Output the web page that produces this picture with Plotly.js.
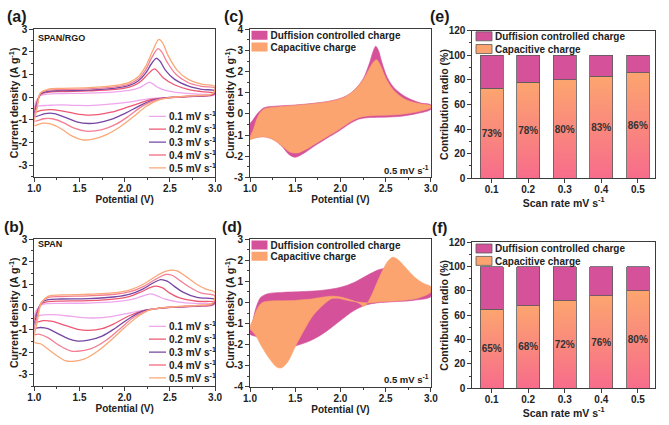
<!DOCTYPE html>
<html><head><meta charset="utf-8">
<script src="https://cdn.plot.ly/plotly-3.0.1.min.js"></script>
<style>html,body{margin:0;padding:0;background:#fff}#g{width:669px;height:425px}</style>
</head><body><div id="g"></div>
<script>
// ---------------- DATA ----------------
const POT_TICKS = [1.0, 1.5, 2.0, 2.5, 3.0];
const POT_TICKTEXT = ['1.0', '1.5', '2.0', '2.5', '3.0'];
const CUR_TICKS_AB = [-3, -2, -1, 0, 1, 2, 3];
const CUR_TICKTEXT_AB = ['-3', '-2', '-1', '0', '1', '2', '3'];
const CUR_TICKS_C = [-3, -2, -1, 0, 1, 2, 3, 4];
const CUR_TICKTEXT_C = ['-3', '-2', '-1', '0', '1', '2', '3', '4'];
const CUR_TICKS_D = [-4, -3, -2, -1, 0, 1, 2, 3];
const CUR_TICKTEXT_D = ['-4', '-3', '-2', '-1', '0', '1', '2', '3'];
const PCT_TICKS = [0, 20, 40, 60, 80, 100, 120];
const PCT_TICKTEXT = ['0', '20', '40', '60', '80', '100', '120'];

const SCAN_NAMES = ['0.1 mV s<sup>-1</sup>', '0.2 mV s<sup>-1</sup>', '0.3 mV s<sup>-1</sup>', '0.4 mV s<sup>-1</sup>', '0.5 mV s<sup>-1</sup>'];
const SCAN_RATES = ['0.1', '0.2', '0.3', '0.4', '0.5'];
const CHARGE_NAMES = ['Duffision controlled charge', 'Capacitive charge'];

// (a) SPAN/RGO CV loops [potential V, current A/g]
const A_01 = [[1.0,-0.42],[1.03,-0.1],[1.07,0.08],[1.15,0.14],[1.3,0.16],[1.6,0.18],[1.9,0.24],[2.05,0.3],[2.15,0.4],[2.22,0.55],[2.27,0.66],[2.31,0.6],[2.36,0.45],[2.45,0.3],[2.6,0.2],[2.8,0.14],[3.0,0.11],
  [2.97,0.07],[2.8,0.04],[2.6,0.01],[2.4,-0.03],[2.25,-0.08],[2.1,-0.18],[1.9,-0.28],[1.7,-0.35],[1.6,-0.37],[1.45,-0.36],[1.3,-0.34],[1.15,-0.36],[1.05,-0.38],[1.0,-0.42]];
const A_02 = [[1.0,-0.65],[1.03,-0.2],[1.07,0.12],[1.15,0.22],[1.3,0.25],[1.6,0.28],[1.9,0.35],[2.05,0.45],[2.15,0.62],[2.23,0.9],[2.29,1.15],[2.33,1.25],[2.37,1.12],[2.43,0.85],[2.55,0.55],[2.7,0.35],[2.85,0.25],[3.0,0.18],
  [2.97,0.09],[2.8,0.05],[2.6,0.01],[2.45,-0.03],[2.3,-0.1],[2.15,-0.28],[2.0,-0.48],[1.85,-0.66],[1.7,-0.77],[1.6,-0.79],[1.45,-0.72],[1.3,-0.6],[1.18,-0.55],[1.08,-0.58],[1.0,-0.65]];
const A_03 = [[1.0,-0.85],[1.03,-0.3],[1.07,0.15],[1.15,0.26],[1.3,0.29],[1.6,0.31],[1.9,0.4],[2.05,0.52],[2.15,0.72],[2.23,1.05],[2.3,1.5],[2.35,1.72],[2.39,1.6],[2.45,1.2],[2.55,0.8],[2.7,0.5],[2.85,0.35],[3.0,0.28],
  [2.97,0.11],[2.8,0.06],[2.6,0.01],[2.45,-0.03],[2.32,-0.12],[2.18,-0.35],[2.0,-0.72],[1.85,-0.98],[1.7,-1.13],[1.6,-1.16],[1.48,-1.1],[1.35,-0.9],[1.22,-0.72],[1.12,-0.72],[1.0,-0.85]];
const A_04 = [[1.0,-1.05],[1.03,-0.4],[1.07,0.18],[1.15,0.31],[1.3,0.34],[1.6,0.37],[1.9,0.46],[2.05,0.58],[2.15,0.8],[2.23,1.2],[2.3,1.75],[2.37,2.15],[2.41,2.0],[2.47,1.55],[2.57,1.0],[2.7,0.65],[2.85,0.48],[3.0,0.4],
  [2.97,0.13],[2.8,0.07],[2.6,0.01],[2.48,-0.03],[2.35,-0.12],[2.2,-0.38],[2.05,-0.82],[1.9,-1.2],[1.75,-1.43],[1.57,-1.5],[1.45,-1.38],[1.32,-1.12],[1.2,-0.95],[1.1,-0.95],[1.0,-1.05]];
const A_05 = [[1.0,-1.25],[1.03,-0.5],[1.07,0.2],[1.15,0.35],[1.3,0.39],[1.6,0.42],[1.9,0.52],[2.05,0.66],[2.15,0.9],[2.23,1.35],[2.31,2.05],[2.38,2.55],[2.42,2.4],[2.48,1.85],[2.58,1.2],[2.7,0.8],[2.85,0.58],[3.0,0.47],
  [2.97,0.15],[2.8,0.08],[2.6,0.02],[2.5,-0.02],[2.38,-0.12],[2.24,-0.4],[2.1,-0.85],[1.95,-1.3],[1.8,-1.65],[1.65,-1.85],[1.53,-1.88],[1.42,-1.72],[1.3,-1.4],[1.18,-1.18],[1.08,-1.15],[1.0,-1.25]];

// (b) SPAN CV loops
const B_01 = [[1.0,-0.38],[1.03,-0.1],[1.08,0.1],[1.15,0.16],[1.3,0.17],[1.6,0.18],[1.9,0.24],[2.05,0.32],[2.18,0.46],[2.29,0.59],[2.36,0.5],[2.45,0.35],[2.6,0.22],[2.8,0.16],[3.0,0.14],
  [2.97,0.08],[2.8,0.04],[2.6,0.0],[2.4,-0.04],[2.2,-0.14],[2.0,-0.3],[1.85,-0.42],[1.65,-0.48],[1.5,-0.45],[1.35,-0.38],[1.2,-0.33],[1.1,-0.34],[1.0,-0.38]];
const B_02 = [[1.0,-0.65],[1.03,-0.2],[1.08,0.15],[1.15,0.24],[1.3,0.27],[1.6,0.29],[1.9,0.37],[2.05,0.47],[2.18,0.67],[2.28,0.86],[2.35,0.93],[2.42,0.85],[2.5,0.62],[2.6,0.42],[2.8,0.26],[3.0,0.22],
  [2.97,0.1],[2.8,0.05],[2.6,0.01],[2.4,-0.04],[2.2,-0.16],[2.05,-0.38],[1.9,-0.7],[1.75,-0.95],[1.6,-1.03],[1.48,-0.98],[1.35,-0.82],[1.2,-0.63],[1.1,-0.6],[1.0,-0.65]];
const B_03 = [[1.0,-0.92],[1.03,-0.3],[1.08,0.2],[1.15,0.33],[1.3,0.36],[1.6,0.38],[1.9,0.46],[2.05,0.56],[2.2,0.8],[2.32,1.08],[2.4,1.22],[2.47,1.15],[2.55,0.92],[2.65,0.65],[2.8,0.43],[3.0,0.33],
  [2.97,0.12],[2.8,0.06],[2.6,0.01],[2.4,-0.04],[2.2,-0.18],[2.05,-0.5],[1.9,-0.92],[1.75,-1.28],[1.6,-1.46],[1.48,-1.5],[1.38,-1.4],[1.25,-1.15],[1.15,-0.95],[1.07,-0.9],[1.0,-0.92]];
const B_04 = [[1.0,-1.2],[1.03,-0.45],[1.08,0.22],[1.15,0.42],[1.3,0.47],[1.6,0.5],[1.9,0.57],[2.05,0.67],[2.2,0.9],[2.35,1.25],[2.46,1.45],[2.53,1.4],[2.62,1.15],[2.72,0.88],[2.85,0.62],[3.0,0.49],
  [2.97,0.14],[2.8,0.07],[2.6,0.02],[2.4,-0.04],[2.25,-0.15],[2.1,-0.45],[1.95,-0.95],[1.8,-1.45],[1.62,-1.85],[1.48,-1.95],[1.4,-1.93],[1.28,-1.7],[1.15,-1.35],[1.06,-1.2],[1.0,-1.2]];
const B_05 = [[1.0,-1.55],[1.03,-0.7],[1.08,0.2],[1.15,0.48],[1.3,0.54],[1.6,0.57],[1.9,0.64],[2.05,0.75],[2.2,1.0],[2.35,1.38],[2.45,1.58],[2.51,1.64],[2.58,1.6],[2.68,1.35],[2.8,1.0],[2.9,0.8],[3.0,0.64],
  [2.97,0.18],[2.8,0.08],[2.6,0.03],[2.4,-0.03],[2.28,-0.12],[2.15,-0.4],[2.0,-0.9],[1.85,-1.45],[1.7,-1.95],[1.55,-2.3],[1.42,-2.4],[1.35,-2.38],[1.25,-2.15],[1.15,-1.85],[1.07,-1.62],[1.0,-1.55]];

// (c) SPAN/RGO 0.5 mV/s : total (diffusion shows where it exceeds) and capacitive
const C_TOT = [[1.0,-0.45],[1.03,-0.3],[1.08,0.0],[1.15,0.28],[1.3,0.37],[1.5,0.42],[1.7,0.5],[1.9,0.62],[2.05,0.82],[2.15,1.12],[2.25,1.65],[2.32,2.4],[2.36,2.95],[2.39,3.2],[2.42,3.0],[2.46,2.4],[2.52,1.7],[2.6,1.2],[2.73,0.78],[2.88,0.52],[3.0,0.42],
  [3.0,0.22],[2.85,0.02],[2.65,-0.12],[2.45,-0.16],[2.3,-0.18],[2.2,-0.25],[2.1,-0.47],[1.97,-0.85],[1.85,-1.15],[1.72,-1.5],[1.6,-1.85],[1.5,-2.05],[1.43,-1.92],[1.35,-1.52],[1.25,-1.2],[1.15,-1.08],[1.07,-1.12],[1.0,-1.2]];
const C_CAP = [[1.0,-1.2],[1.04,-0.7],[1.09,-0.1],[1.15,0.22],[1.3,0.33],[1.5,0.4],[1.7,0.48],[1.9,0.6],[2.05,0.8],[2.15,1.1],[2.25,1.6],[2.32,2.15],[2.37,2.48],[2.4,2.56],[2.44,2.3],[2.5,1.7],[2.58,1.15],[2.7,0.72],[2.85,0.5],[3.0,0.38],
  [3.0,0.3],[2.85,0.1],[2.65,-0.03],[2.45,-0.07],[2.3,-0.1],[2.2,-0.18],[2.1,-0.4],[1.97,-0.78],[1.85,-1.08],[1.72,-1.42],[1.6,-1.72],[1.52,-1.85],[1.44,-1.8],[1.35,-1.5],[1.25,-1.2],[1.15,-1.08],[1.07,-1.12],[1.0,-1.2]];

// (d) SPAN 0.5 mV/s
const D_TOT = [[1.0,-1.5],[1.03,-0.9],[1.07,-0.2],[1.12,0.25],[1.2,0.42],[1.35,0.48],[1.6,0.52],[1.8,0.58],[2.0,0.72],[2.15,0.95],[2.3,1.3],[2.42,1.55],[2.52,1.64],[2.6,1.6],[2.7,1.35],[2.8,1.05],[2.9,0.82],[3.0,0.65],
  [3.0,0.28],[2.8,0.1],[2.6,0.04],[2.4,-0.02],[2.28,-0.12],[2.15,-0.38],[2.0,-0.85],[1.85,-1.35],[1.7,-1.75],[1.55,-2.0],[1.45,-2.12],[1.35,-2.15],[1.25,-2.0],[1.15,-1.8],[1.07,-1.62],[1.0,-1.5]];
const D_CAP = [[1.0,-1.2],[1.04,-0.75],[1.08,-0.3],[1.13,-0.02],[1.2,0.06],[1.35,0.08],[1.5,0.1],[1.65,0.15],[1.8,0.25],[1.9,0.3],[2.0,0.26],[2.1,0.14],[2.2,-0.02],[2.26,-0.18],[2.3,0.0],[2.36,0.5],[2.42,1.1],[2.48,1.65],[2.53,2.0],[2.58,2.15],[2.64,2.02],[2.72,1.65],[2.82,1.2],[2.92,0.9],[3.0,0.75],
  [3.0,0.5],[2.85,0.2],[2.65,0.08],[2.45,0.03],[2.3,-0.02],[2.2,0.02],[2.08,0.1],[1.97,0.2],[1.9,0.18],[1.8,-0.15],[1.7,-0.6],[1.6,-1.3],[1.5,-2.1],[1.42,-2.8],[1.35,-3.1],[1.3,-3.08],[1.22,-2.7],[1.13,-2.1],[1.06,-1.55],[1.0,-1.2]];

// (e),(f) contribution ratios (%)
const E_CAP = [73, 78, 80, 83, 86];
const E_DIF = [27, 22, 20, 17, 14];
const F_CAP = [65, 68, 72, 76, 80];
const F_DIF = [35, 32, 28, 24, 20];

// ---------------- STYLE ----------------
const FONT = "'Liberation Sans', Arial, sans-serif";
const INK = '#222222';
const AXC = '#3c3c3c';
const CV_COLORS = ['#eea6ec', '#ee5873', '#7647a3', '#f47f95', '#f9a878'];
const MAGENTA = '#d5529a';
const ORANGE = '#fba46f';

function pts(arr) { return { x: arr.map(p => p[0]), y: arr.map(p => p[1]) }; }

const data = [];
[A_01, A_02, A_03, A_04, A_05].forEach((c, i) => {
  const p = pts(c);
  data.push({ type: 'scatter', mode: 'lines', x: p.x, y: p.y, xaxis: 'x', yaxis: 'y', name: SCAN_NAMES[i],
    legend: 'legend', line: { color: CV_COLORS[i], width: 1.3, shape: 'spline', smoothing: 1 } });
});
[B_01, B_02, B_03, B_04, B_05].forEach((c, i) => {
  const p = pts(c);
  data.push({ type: 'scatter', mode: 'lines', x: p.x, y: p.y, xaxis: 'x4', yaxis: 'y4', name: SCAN_NAMES[i],
    legend: 'legend2', line: { color: CV_COLORS[i], width: 1.3, shape: 'spline', smoothing: 1 } });
});
function fillTrace(arr, color, name, xa, ya, lg) {
  const p = pts(arr);
  return { type: 'scatter', mode: 'lines', x: p.x, y: p.y, xaxis: xa, yaxis: ya, name: name, legend: lg,
    fill: 'toself', fillcolor: color, line: { color: color, width: 0.6, shape: 'spline', smoothing: 0.9 } };
}
data.push(fillTrace(C_TOT, MAGENTA, CHARGE_NAMES[0], 'x2', 'y2', 'legend3'));
data.push(fillTrace(C_CAP, ORANGE, CHARGE_NAMES[1], 'x2', 'y2', 'legend3'));
data.push(fillTrace(D_TOT, MAGENTA, CHARGE_NAMES[0], 'x5', 'y5', 'legend4'));
data.push(fillTrace(D_CAP, ORANGE, CHARGE_NAMES[1], 'x5', 'y5', 'legend4'));

function barPair(cap, dif, xa, ya, lg) {
  return [
    { type: 'bar', x: SCAN_RATES, y: cap, xaxis: xa, yaxis: ya, name: CHARGE_NAMES[1], legend: lg, width: 0.62,
      marker: { color: ORANGE, line: { color: '#5a5a5a', width: 0.8 } },
      texttemplate: '%{y}%', textposition: 'inside', insidetextanchor: 'middle', textangle: 0, constraintext: 'none',
      textfont: { family: FONT, size: 10, color: '#333333', weight: 'bold' } },
    { type: 'bar', x: SCAN_RATES, y: dif, xaxis: xa, yaxis: ya, name: CHARGE_NAMES[0], legend: lg, width: 0.62,
      marker: { color: MAGENTA, line: { color: '#5a5a5a', width: 0.8 } }, textposition: 'none' }
  ];
}
barPair(E_CAP, E_DIF, 'x3', 'y3', 'legend5').forEach(t => data.push(t));
barPair(F_CAP, F_DIF, 'x6', 'y6', 'legend6').forEach(t => data.push(t));

function axis(o) {
  const a = {
    showline: true, mirror: true, linecolor: AXC, linewidth: 1,
    ticks: 'outside', ticklen: 4, tickwidth: 1, tickcolor: AXC,
    showgrid: false, zeroline: false, automargin: false, fixedrange: true,
    tickfont: { family: FONT, size: 10, color: INK, weight: 'bold' },
    title: { text: o.title, font: { family: FONT, size: o.tsize || 10, color: INK, weight: 'bold' }, standoff: o.standoff }
  };
  ['domain', 'range', 'anchor', 'type', 'tickvals', 'ticktext', 'tickmode', 'ticklabelstandoff'].forEach(k => { if (o[k] !== undefined) a[k] = o[k]; });
  if (o.minor) a.minor = { tickmode: 'linear', tick0: o.minor[0], dtick: o.minor[1], ticks: 'outside', ticklen: 2, tickwidth: 1, tickcolor: AXC, showgrid: false };
  return a;
}
const XD1 = [0.0513, 0.3214], XD2 = [0.3737, 0.6442], XD3 = [0.7060, 0.9791];
const POT_TITLE = 'Potential (V)', CUR_TITLE = 'Current density (A g<sup>-1</sup>)';
const layout = {
  width: 669, height: 425, autosize: false,
  margin: { l: 0, r: 0, t: 0, b: 0, pad: 0 },
  paper_bgcolor: '#ffffff', plot_bgcolor: 'rgba(0,0,0,0)',
  font: { family: FONT, color: INK },
  barmode: 'stack', hovermode: false, showlegend: true,
  xaxis:  axis({ domain: XD1, range: [1, 3], anchor: 'y',  tickmode: 'array', tickvals: POT_TICKS, ticktext: POT_TICKTEXT, minor: [1, 0.25], title: POT_TITLE, standoff: 0, ticklabelstandoff: -2 }),
  yaxis:  axis({ domain: [0.5847, 0.9311], range: [-3.5, 3], anchor: 'x', tickmode: 'array', tickvals: CUR_TICKS_AB, ticktext: CUR_TICKTEXT_AB, minor: [0, 0.5], title: CUR_TITLE, tsize: 10.5, standoff: 0 }),
  xaxis2: axis({ domain: XD2, range: [1, 3], anchor: 'y2', tickmode: 'array', tickvals: POT_TICKS, ticktext: POT_TICKTEXT, minor: [1, 0.25], title: POT_TITLE, standoff: 0, ticklabelstandoff: -2 }),
  yaxis2: axis({ domain: [0.5828, 0.9311], range: [-3, 4], anchor: 'x2', tickmode: 'array', tickvals: CUR_TICKS_C, ticktext: CUR_TICKTEXT_C, minor: [0, 0.5], title: CUR_TITLE, tsize: 10.5, standoff: 0 }),
  xaxis3: axis({ domain: XD3, range: [-0.53, 4.47], anchor: 'y3', type: 'category', title: 'Scan rate mV s<sup>-1</sup>', tsize: 10.5, standoff: 0, ticklabelstandoff: -2 }),
  yaxis3: axis({ domain: [0.5805, 0.9278], range: [0, 120], anchor: 'x3', tickmode: 'array', tickvals: PCT_TICKS, ticktext: PCT_TICKTEXT, minor: [0, 10], title: 'Contribution radio (%)', tsize: 10.5, standoff: 0 }),
  xaxis4: axis({ domain: XD1, range: [1, 3], anchor: 'y4', tickmode: 'array', tickvals: POT_TICKS, ticktext: POT_TICKTEXT, minor: [1, 0.25], title: POT_TITLE, standoff: 0, ticklabelstandoff: -2 }),
  yaxis4: axis({ domain: [0.0911, 0.4369], range: [-3.5, 3], anchor: 'x4', tickmode: 'array', tickvals: CUR_TICKS_AB, ticktext: CUR_TICKTEXT_AB, minor: [0, 0.5], title: CUR_TITLE, tsize: 10.5, standoff: 0 }),
  xaxis5: axis({ domain: XD2, range: [1, 3], anchor: 'y5', tickmode: 'array', tickvals: POT_TICKS, ticktext: POT_TICKTEXT, minor: [1, 0.25], title: POT_TITLE, standoff: 0, ticklabelstandoff: -2 }),
  yaxis5: axis({ domain: [0.0901, 0.4369], range: [-4, 3], anchor: 'x5', tickmode: 'array', tickvals: CUR_TICKS_D, ticktext: CUR_TICKTEXT_D, minor: [0, 0.5], title: CUR_TITLE, tsize: 10.5, standoff: 0 }),
  xaxis6: axis({ domain: XD3, range: [-0.53, 4.47], anchor: 'y6', type: 'category', title: 'Scan rate mV s<sup>-1</sup>', tsize: 10.5, standoff: 0, ticklabelstandoff: -2 }),
  yaxis6: axis({ domain: [0.0864, 0.4299], range: [0, 120], anchor: 'x6', tickmode: 'array', tickvals: PCT_TICKS, ticktext: PCT_TICKTEXT, minor: [0, 10], title: 'Contribution radio (%)', tsize: 10.5, standoff: 0 }),
  annotations: []
};
// legend: text starts 40px right of legend.x; first row centre 14.5px below legend top
function legendCfg(textLeft, firstRowY, order) {
  return { x: (textLeft - 40) / 669, y: 1 - (firstRowY - 14.5) / 425, xanchor: 'left', yanchor: 'top', bgcolor: 'rgba(0,0,0,0)', borderwidth: 0,
    font: { family: FONT, size: 10, color: INK, weight: 'bold' }, traceorder: order, tracegroupgap: 0, itemwidth: 30 };
}
layout.legend  = legendCfg(169, 116.3, 'normal');
layout.legend2 = legendCfg(169, 326.3, 'normal');
layout.legend3 = legendCfg(270.5, 35.3, 'normal');
layout.legend4 = legendCfg(270.5, 245, 'normal');
layout.legend5 = legendCfg(495, 36.3, 'reversed');
layout.legend6 = legendCfg(495, 248.5, 'reversed');

function note(text, x, y, size, xanchor) {
  layout.annotations.push({ text: text, xref: 'paper', yref: 'paper', x: x / 669, y: 1 - y / 425, xanchor: xanchor || 'center', yanchor: 'middle',
    showarrow: false, font: { family: FONT, size: size, color: '#1a1a1a', weight: 'bold' } });
}
note('(a)', 16.5, 16.7, 16); note('(c)', 234, 16.7, 16); note('(e)', 440, 16.7, 16);
note('(b)', 14, 227, 15.5); note('(d)', 232, 227, 15.5); note('(f)', 440, 227.5, 15.5);
note('SPAN/RGO', 35.5, 37.7, 9, 'left'); note('SPAN', 35.5, 244.3, 9, 'left');
note('0.5 mV s<sup>-1</sup>', 431, 169.5, 9.5, 'right'); note('0.5 mV s<sup>-1</sup>', 431, 379, 9.5, 'right');

function parseT(s) { const m = /translate\(\s*([-\d.e]+)[ ,]+([-\d.e]+)\s*\)/.exec(s || ''); return m ? [+m[1], +m[2]] : [0, 0]; }
const LEG_STYLE = {
  legend:  { gap: 12.9, kind: 'line' }, legend2: { gap: 12.9, kind: 'line' },
  legend3: { gap: 11.7, kind: 'fill' }, legend4: { gap: 11.3, kind: 'fill' },
  legend5: { gap: 12.7, kind: 'bar' },  legend6: { gap: 12.4, kind: 'bar' }
};
function tweakLegends(gd) {
  gd.querySelectorAll('.infolayer > g').forEach(lg => {
    const t = LEG_STYLE[lg.getAttribute('class')];
    if (!t) return;
    const items = Array.from(lg.querySelectorAll('g.traces')).map(it => { const p = parseT(it.getAttribute('transform')); return { it: it, x: p[0], y: p[1] }; });
    if (!items.length) return;
    items.sort((a, b) => a.y - b.y);
    const y0 = items[0].y;
    items.forEach((p, i) => {
      p.it.setAttribute('transform', 'translate(' + p.x + ',' + (y0 + i * t.gap) + ')');
      if (t.kind === 'line') {
        p.it.querySelectorAll('.legendlines path').forEach(pa => pa.setAttribute('d', 'M20,0h17'));
      } else if (t.kind === 'fill') {
        p.it.querySelectorAll('.legendfill path').forEach(pa => pa.setAttribute('d', 'M21,-4.5h16v9h-16z'));
        p.it.querySelectorAll('.legendlines path').forEach(pa => pa.style.display = 'none');
      } else {
        p.it.querySelectorAll('.legendpoints path').forEach(pa => pa.setAttribute('d', 'M17,4.5H1V-4.5H17Z'));
      }
    });
  });
}
const TITLE_SHIFT = {
  ytitle: [3, 0], y4title: [3, 0], y2title: [3.5, 0], y5title: [3.5, 0], y3title: [2.5, 0], y6title: [2.5, 0]
};
function shiftTitles(gd) {
  gd.querySelectorAll('.infolayer text').forEach(el => {
    const s = TITLE_SHIFT[el.getAttribute('class')];
    if (!s || el.getAttribute('data-shifted')) return;
    el.setAttribute('transform', 'translate(' + s[0] + ',' + s[1] + ') ' + (el.getAttribute('transform') || ''));
    el.setAttribute('data-shifted', '1');
  });
}
function addGradient(gd) {
  const NS = 'http://www.w3.org/2000/svg';
  const svg = gd.querySelector('svg.main-svg');
  let defs = svg.querySelector('defs');
  if (!defs) { defs = document.createElementNS(NS, 'defs'); svg.insertBefore(defs, svg.firstChild); }
  if (!svg.querySelector('#capGrad')) {
    const g = document.createElementNS(NS, 'linearGradient');
    g.setAttribute('id', 'capGrad'); g.setAttribute('x1', '0'); g.setAttribute('y1', '0'); g.setAttribute('x2', '0'); g.setAttribute('y2', '1');
    [['0', '#fca56f'], ['1', '#f76c8b']].forEach(s => { const st = document.createElementNS(NS, 'stop'); st.setAttribute('offset', s[0]); st.setAttribute('stop-color', s[1]); g.appendChild(st); });
    defs.appendChild(g);
  }
  gd.querySelectorAll('.barlayer path').forEach(p => {
    if ((p.style.fill || '').replace(/\s/g, '') === 'rgb(251,164,111)') p.style.fill = 'url(#capGrad)';
  });
}
const gd = document.getElementById('g');
function finish() {
  try { addGradient(gd); } catch (e) { console.log(e); }
  try { tweakLegends(gd); } catch (e) { console.log(e); }
  try { shiftTitles(gd); } catch (e) { console.log(e); }
}
Plotly.newPlot(gd, data, layout, { displayModeBar: false, staticPlot: true }).then(() => {
  finish();
  if (gd.on) gd.on('plotly_afterplot', finish);
  requestAnimationFrame(finish);
  [30, 120, 400, 1000].forEach(t => setTimeout(finish, t));
});
</script></body></html>
